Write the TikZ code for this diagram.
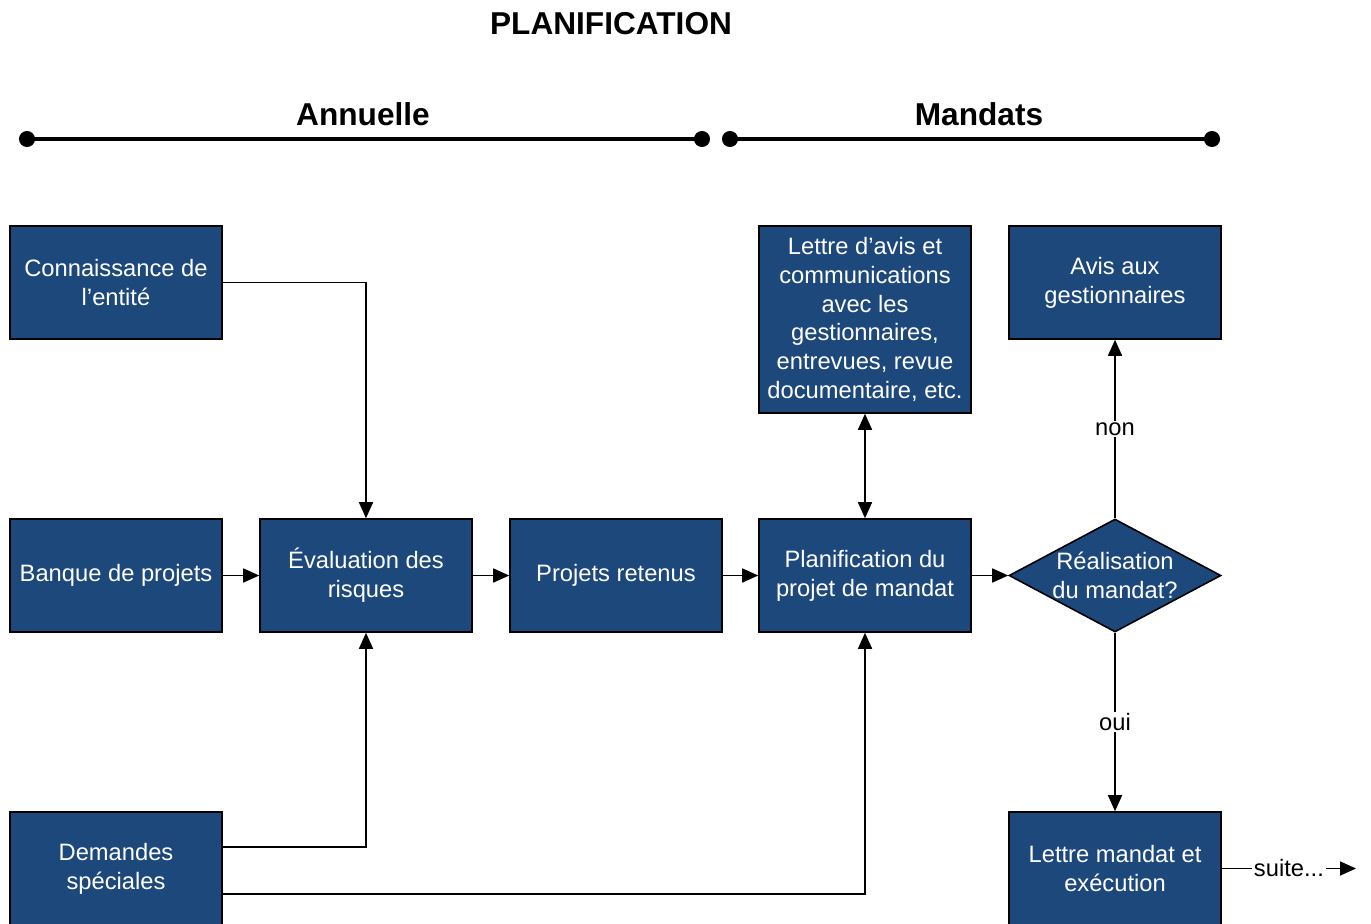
\documentclass[tikz,border=0pt]{standalone}
\usepackage{fontspec}
\setmainfont{Liberation Sans}
\usetikzlibrary{shapes.geometric,positioning,arrows.meta}
\definecolor{boxblue}{RGB}{29,72,124}

\begin{document}
\begin{tikzpicture}[x=0.02cm,y=-0.02cm,
  bloc/.style={rectangle,draw=black,line width=0.9pt,fill=boxblue,text=white,
    minimum width=4.24cm,minimum height=2.26cm,inner sep=0pt,align=center,
    font=\fontsize{13.5}{16.4}\selectfont},
  decision/.style={diamond,draw=black,line width=0.9pt,fill=boxblue,
    minimum width=4.24cm,minimum height=2.26cm,inner sep=0pt},
  lien/.style={line width=0.9pt,-{Triangle[length=0.32cm,width=0.28cm]}},
  double lien/.style={line width=0.9pt,{Triangle[length=0.32cm,width=0.28cm]}-{Triangle[length=0.32cm,width=0.28cm]}},
  etiq/.style={fill=white,inner sep=1pt,font=\fontsize{13.5}{16.4}\selectfont},
  titre/.style={font=\bfseries\fontsize{18}{22}\selectfont},
  periode/.style={line width=1.9pt,{Circle[length=0.32cm]}-{Circle[length=0.32cm]}}]
\useasboundingbox (0,0) rectangle (1371,923);

% Titles
\node[titre] (plan) at (611,24) {PLANIFICATION};
\node[titre] (annuelle) at (363,114) {Annuelle};
\node[titre] (mandats) at (979,114) {Mandats};

% Time lines
\coordinate (a1) at (19,139);
\coordinate (a2) at (710,139);
\coordinate (m1) at (722,139);
\coordinate (m2) at (1220,139);
\draw[periode] (a1) -- (a2);
\draw[periode] (m1) -- (m2);

% First row
\node[bloc] (conn) at (116,282.5) {Connaissance de\\l’entité};
\node[bloc,minimum height=3.74cm] (lettre) at (865,319.5) {Lettre d’avis et\\communications\\avec les\\gestionnaires,\\entrevues, revue\\documentaire, etc.};
\node[bloc] (avis) at (1115,282.5) {Avis aux\\gestionnaires};

% Second row
\node[bloc] (banque) at (116,575.5) {Banque de projets};
\node[bloc] (eval) at (366,575.5) {Évaluation des\\risques};
\node[bloc] (retenus) at (616,575.5) {Projets retenus};
\node[bloc] (planif) at (865,575.5) {Planification du\\projet de mandat};
\node[decision] (real) at (1115,575.5) {};
\node[text=white,align=center,font=\fontsize{13.5}{16.4}\selectfont] (realtxt) at (real) {Réalisation\\du mandat?};

% Third row
\node[bloc] (demandes) at (116,868.5) {Demandes\\spéciales};
\node[bloc] (execution) at (1115,868.5) {Lettre mandat et\\exécution};
\coordinate (fin) at (1356,868.5);

% Connections
\draw[lien] (conn.east) -| (eval.north);
\draw[lien] (banque) -- (eval);
\draw[lien] (eval) -- (retenus);
\draw[lien] (retenus) -- (planif);
\draw[lien] (planif) -- (real);
\draw[double lien] (planif) -- (lettre);
\draw[lien] ([yshift=0.43cm]demandes.east) -| (eval.south);
\draw[lien] ([yshift=-0.51cm]demandes.east) -| (planif.south);
\draw[lien] (real.north) -- node[etiq] {non} (avis.south);
\draw[lien] (real.south) -- node[etiq] {oui} (execution.north);
\draw[lien] (execution.east) -- node[etiq] {suite...} (fin);
\end{tikzpicture}
\end{document}
